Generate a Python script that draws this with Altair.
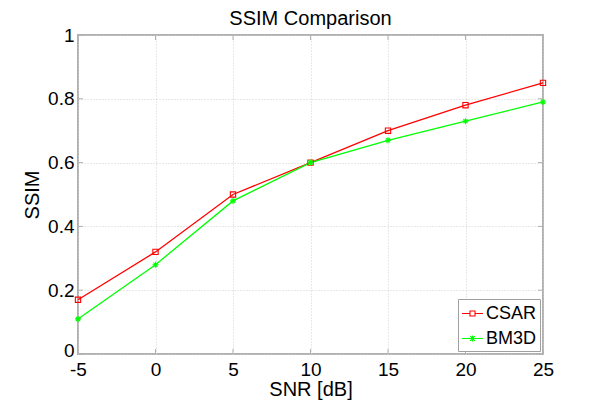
import altair as alt
import pandas as pd

snr = [-5, 0, 5, 10, 15, 20, 25]
csar = [0.17, 0.32, 0.50, 0.60, 0.70, 0.78, 0.85]
bm3d = [0.11, 0.28, 0.48, 0.60, 0.67, 0.73, 0.79]
series = ["CSAR", "BM3D"]
x_ticks = [-5, 0, 5, 10, 15, 20, 25]
y_ticks = [0, 0.2, 0.4, 0.6, 0.8, 1]

rows = []
for s, vals in zip(series, [csar, bm3d]):
    for x, v in zip(snr, vals):
        rows.append({"snr": x, "ssim": v, "method": s})
df = pd.DataFrame(rows)
xt = pd.DataFrame({"v": x_ticks})
yt = pd.DataFrame({"v": y_ticks})

FONT = "Liberation Sans"
W, H = 465, 319
FRAME = "#b0b0b0"
RED, GREEN = "#ff0000", "#00ff00"

xscale = alt.Scale(domain=[-5, 25], nice=False, zero=False)
yscale = alt.Scale(domain=[0, 1], nice=False)
cscale = alt.Scale(domain=series, range=[RED, GREEN])

SQ_LEG = "M-1,0H-0.24M0.24,0H1M-0.24,-0.24H0.24V0.24H-0.24Z"
ST_LEG = "M-1,0H1M0,-0.28V0.28M-0.22,-0.22L0.22,0.22M-0.22,0.22L0.22,-0.22"
STAR = "M-1,0H1M0,-1V1M-0.7,-0.7L0.7,0.7M-0.7,0.7L0.7,-0.7"
sscale = alt.Scale(domain=series, range=[SQ_LEG, ST_LEG])

xenc = alt.X("snr:Q", scale=xscale, title="SNR [dB]",
             axis=alt.Axis(values=x_ticks, labelExpr="'' + datum.value"))
yenc = alt.Y("ssim:Q", scale=yscale, title="SSIM",
             axis=alt.Axis(values=y_ticks, labelExpr="'' + datum.value",
                           labelOffset={"condition": {"test": "datum.value === 0", "value": -4},
                                        "value": 0}))

base = alt.Chart(df)

csar_line = base.transform_filter("datum.method == 'CSAR'").mark_line(
    strokeWidth=1.3, color=RED).encode(x=xenc, y=yenc)
bm3d_line = base.transform_filter("datum.method == 'BM3D'").mark_line(
    strokeWidth=1.3, color=GREEN).encode(x="snr:Q", y="ssim:Q")

csar_pts = base.transform_filter("datum.method == 'CSAR'").mark_point(
    shape="square", size=28, strokeWidth=1.1, color=RED, filled=False, opacity=1
).encode(x="snr:Q", y="ssim:Q")

bm3d_pts = base.transform_filter("datum.method == 'BM3D'").mark_point(
    shape=STAR, size=36, strokeWidth=1.1, color=GREEN, filled=False, opacity=1
).encode(x="snr:Q", y="ssim:Q")

legend_layer = base.mark_point(
    filled=False, opacity=0, strokeWidth=1.1, size=1
).encode(
    x="snr:Q", y="ssim:Q",
    color=alt.Color("method:N", scale=cscale, legend=alt.Legend(title=None)),
    shape=alt.Shape("method:N", scale=sscale, legend=alt.Legend(title=None)),
)

tick_bottom = alt.Chart(xt).mark_rule(color=FRAME, strokeWidth=1).encode(
    x="v:Q", y=alt.datum(0), y2=alt.datum(0.016))
tick_top = alt.Chart(xt).mark_rule(color=FRAME, strokeWidth=1).encode(
    x="v:Q", y=alt.datum(1), y2=alt.datum(0.984))
tick_left = alt.Chart(yt).mark_rule(color=FRAME, strokeWidth=1).encode(
    y="v:Q", x=alt.datum(-5), x2=alt.datum(-4.68))
tick_right = alt.Chart(yt).mark_rule(color=FRAME, strokeWidth=1).encode(
    y="v:Q", x=alt.datum(25), x2=alt.datum(24.68))

chart = alt.layer(
    csar_line, bm3d_line, tick_bottom, tick_top, tick_left, tick_right,
    csar_pts, bm3d_pts, legend_layer,
).properties(
    width=W, height=H,
    title=alt.TitleParams("SSIM Comparison", fontSize=20, fontWeight="normal",
                          font=FONT, color="black", offset=-3),
    autosize=alt.AutoSizeParams(type="none"),
    padding={"left": 70, "top": 27, "right": 49, "bottom": 46},
).configure(font=FONT).configure_view(
    stroke=FRAME, strokeWidth=2
).configure_axis(
    domain=False, ticks=False, grid=True, gridColor="#d0d0d0", gridDash=[1, 2],
    gridWidth=1, labelFont=FONT, labelFontSize=19, labelColor="black",
    titleFont=FONT, titleFontSize=20, titleFontWeight="normal", titleColor="black",
    labelFlush=False,
).configure_axisX(
    labelPadding=6, titlePadding=0,
).configure_axisY(
    labelPadding=4, titlePadding=5,
).configure_legend(
    orient="bottom-right", offset=3, padding=3, strokeColor="#a0a0a0", fillColor="white",
    labelFont=FONT, labelFontSize=18, labelColor="black", symbolSize=441,
    symbolStrokeWidth=1.1, labelOffset=2, rowPadding=4, symbolOpacity=1,
)

chart.save("out.html", embed_options={"renderer": "svg", "actions": False})
